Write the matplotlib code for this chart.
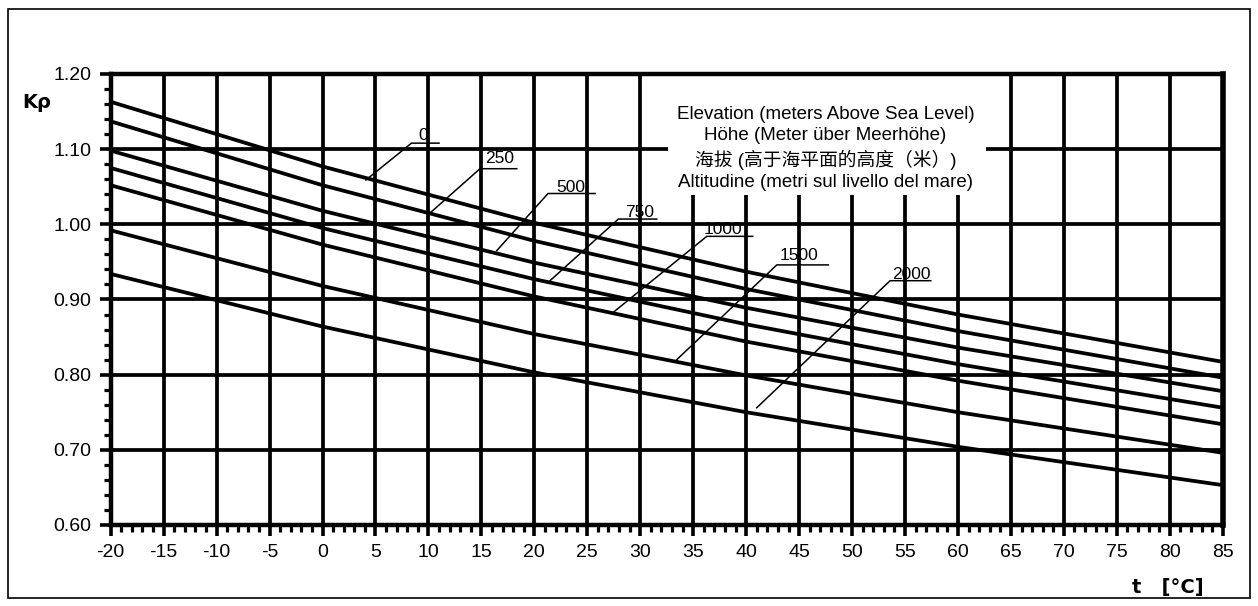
# Air density correction factor K-rho vs temperature for several elevations
import matplotlib
matplotlib.use("Agg")
import matplotlib.pyplot as plt
from matplotlib.patches import Rectangle
from matplotlib.ticker import MultipleLocator, FormatStrFormatter

plt.rcParams["axes.unicode_minus"] = False
plt.rcParams["font.family"] = ["Liberation Sans", "Noto Sans CJK SC", "DejaVu Sans"]

# temperature points (deg C)
temps = [-20, 0, 20, 40, 60, 85]

# K-rho per elevation (m above sea level)
elevations = ["0", "250", "500", "750", "1000", "1500", "2000"]
k_0 = [1.163, 1.077, 1.002, 0.937, 0.880, 0.817]
k_250 = [1.137, 1.052, 0.978, 0.914, 0.858, 0.796]
k_500 = [1.098, 1.018, 0.949, 0.889, 0.836, 0.778]
k_750 = [1.075, 0.995, 0.927, 0.867, 0.814, 0.756]
k_1000 = [1.052, 0.973, 0.904, 0.844, 0.792, 0.734]
k_1500 = [0.992, 0.918, 0.854, 0.799, 0.750, 0.696]
k_2000 = [0.934, 0.864, 0.803, 0.750, 0.704, 0.653]
series = [k_0, k_250, k_500, k_750, k_1000, k_1500, k_2000]

legend_lines = [
    "Elevation (meters Above Sea Level)",
    "Höhe (Meter über Meerhöhe)",
    "海拔 (高于海平面的高度（米）)",
    "Altitudine (metri sul livello del mare)",
]

# label leaders: (end on curve), (underline start), underline end x, text anchor
leader_end = [(4.1, 1.059), (10.15, 1.015), (16.45, 0.965), (21.48, 0.925),
              (27.46, 0.883), (33.45, 0.820), (41.0, 0.756)]
underline = [(8.4, 11.0, 1.108), (14.87, 18.34, 1.074), (21.29, 25.73, 1.041),
             (27.93, 31.56, 1.007), (36.28, 40.62, 0.984), (42.89, 47.76, 0.946),
             (53.59, 57.43, 0.925)]
text_pos = [(9.05, 1.112), (15.35, 1.082), (22.11, 1.043), (28.57, 1.010),
            (35.96, 0.987), (43.2, 0.952), (53.75, 0.927)]


def main() -> None:
    fig = plt.figure(figsize=(12.58, 6.06), dpi=100)
    ax = fig.add_axes([0.0880, 0.1337, 0.8840, 0.7442])

    ax.set_xlim(-20, 85)
    ax.set_ylim(0.60, 1.20)
    ax.set_xticks(range(-20, 86, 5))
    ax.set_yticks([0.6, 0.7, 0.8, 0.9, 1.0, 1.1, 1.2])
    ax.xaxis.set_minor_locator(MultipleLocator(1))
    ax.yaxis.set_minor_locator(MultipleLocator(0.02))
    ax.yaxis.set_major_formatter(FormatStrFormatter("%.2f"))

    ax.set_axisbelow(True)
    ax.grid(which="major", color="black", lw=2.7)
    ax.tick_params(which="major", length=8, width=2.6, direction="out",
                   labelsize=14, pad=6)
    ax.tick_params(which="minor", length=5, width=2.3, direction="out")
    for name, sp in ax.spines.items():
        sp.set_linewidth(3.2)
        sp.set_zorder(4)
    ax.spines["right"].set_linewidth(4)

    for vals in series:
        ax.plot(temps, vals, color="black", lw=2.7, zorder=3,
                solid_capstyle="butt")

    # white box behind the legend text
    ax.add_patch(Rectangle((32.6, 1.039), 30.0, 0.161, facecolor="white",
                           edgecolor="none", zorder=1))
    ax.text(47.5, 1.101, "\n".join(legend_lines), ha="center", va="center",
            fontsize=13.5, linespacing=1.32, zorder=5)

    for lab, (xe, ye), (x0, x1, yu), (xt, yt) in zip(
            elevations, leader_end, underline, text_pos):
        ax.plot([xe, x0, x1], [ye, yu, yu], color="black", lw=1.1, zorder=3.5)
        ax.text(xt, yt, lab, ha="left", va="baseline", fontsize=12.5, zorder=5)

    fig.text(22.7 / 1258, 1 - 103 / 606, "Kρ", ha="left", va="center",
             fontsize=14, fontweight="bold", family="DejaVu Sans")
    fig.text(1132 / 1258, 1 - 587 / 606, "t   [°C]", ha="left", va="center",
             fontsize=14, fontweight="bold", family="DejaVu Sans")

    # outer frame
    fig.add_artist(Rectangle((8 / 1258, 1 - 598 / 606), 1242 / 1258, 589 / 606,
                             transform=fig.transFigure, fill=False,
                             edgecolor="black", lw=1.2))

    fig.savefig("out.png", dpi=100)
    plt.close(fig)


if __name__ == "__main__":
    main()
